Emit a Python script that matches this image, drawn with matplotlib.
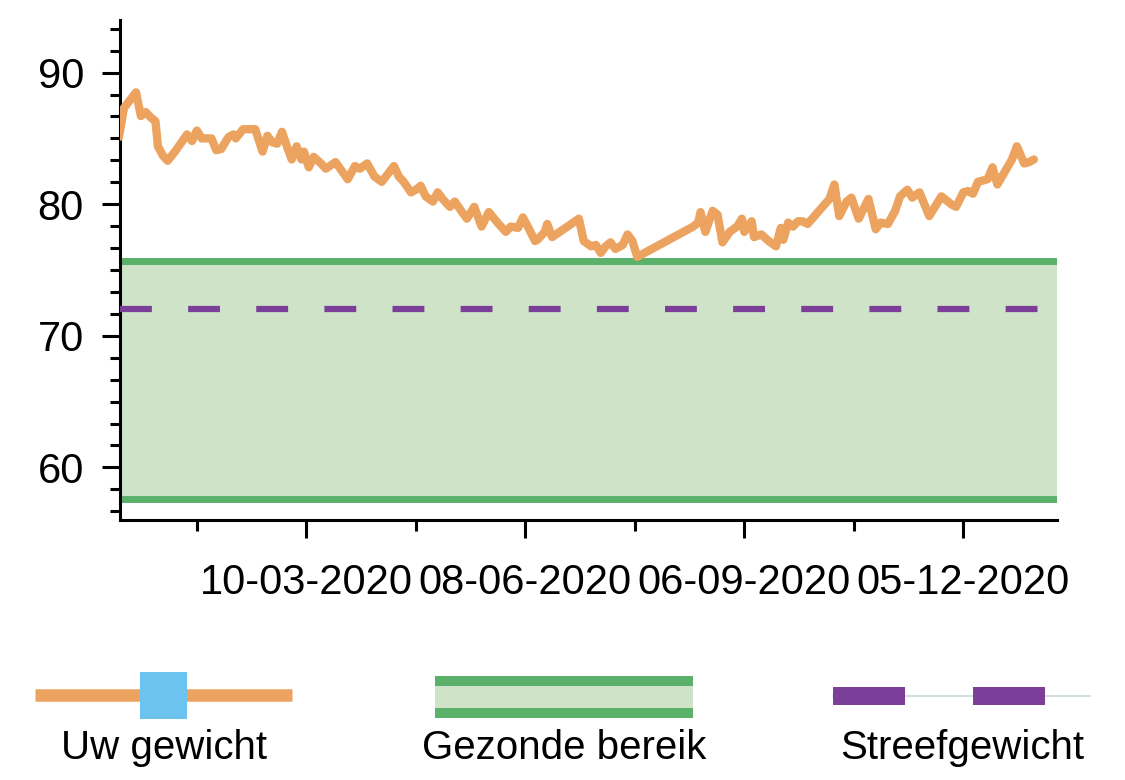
# Gewichtsverloop met gezond bereik en streefgewicht
import matplotlib
matplotlib.use("Agg")
import matplotlib.pyplot as plt
import matplotlib.dates as mdates
from matplotlib.patches import Rectangle
from matplotlib.ticker import MultipleLocator, FixedLocator
import pandas as pd

plt.rcParams['font.family'] = ['Liberation Sans', 'DejaVu Sans']

datums = [
    "2019-12-24", "2019-12-26", "2019-12-31", "2020-01-02", "2020-01-04", "2020-01-06",
    "2020-01-08", "2020-01-09", "2020-01-11", "2020-01-13", "2020-01-16", "2020-01-21",
    "2020-01-23", "2020-01-25", "2020-01-27", "2020-01-31", "2020-02-02", "2020-02-04",
    "2020-02-07", "2020-02-09", "2020-02-10", "2020-02-13", "2020-02-18", "2020-02-21",
    "2020-02-23", "2020-02-25", "2020-02-27", "2020-02-29", "2020-03-02", "2020-03-04",
    "2020-03-06", "2020-03-08", "2020-03-09", "2020-03-11", "2020-03-13", "2020-03-16",
    "2020-03-18", "2020-03-22", "2020-03-27", "2020-03-30", "2020-04-01", "2020-04-04",
    "2020-04-07", "2020-04-10", "2020-04-15", "2020-04-17", "2020-04-19", "2020-04-22",
    "2020-04-24", "2020-04-26", "2020-04-28", "2020-05-01", "2020-05-03", "2020-05-05",
    "2020-05-08", "2020-05-10", "2020-05-13", "2020-05-15", "2020-05-18", "2020-05-21",
    "2020-05-24", "2020-05-28", "2020-05-31", "2020-06-02", "2020-06-05", "2020-06-07",
    "2020-06-09", "2020-06-12", "2020-06-13", "2020-06-16", "2020-06-17", "2020-06-19",
    "2020-06-30", "2020-07-02", "2020-07-05", "2020-07-07", "2020-07-09", "2020-07-11",
    "2020-07-13", "2020-07-15", "2020-07-18", "2020-07-20", "2020-07-22", "2020-07-24",
    "2020-08-16", "2020-08-18", "2020-08-19", "2020-08-21", "2020-08-24", "2020-08-26",
    "2020-08-28", "2020-08-31", "2020-09-03", "2020-09-05", "2020-09-06", "2020-09-09",
    "2020-09-10", "2020-09-13", "2020-09-16", "2020-09-19", "2020-09-21", "2020-09-22",
    "2020-09-24", "2020-09-26", "2020-09-28", "2020-09-30", "2020-10-02", "2020-10-11",
    "2020-10-13", "2020-10-15", "2020-10-18", "2020-10-20", "2020-10-23", "2020-10-27",
    "2020-10-30", "2020-11-01", "2020-11-04", "2020-11-07", "2020-11-09", "2020-11-12",
    "2020-11-14", "2020-11-17", "2020-11-21", "2020-11-26", "2020-11-30", "2020-12-02",
    "2020-12-05", "2020-12-07", "2020-12-09", "2020-12-11", "2020-12-15", "2020-12-17",
    "2020-12-19", "2020-12-25", "2020-12-27", "2020-12-30", "2021-01-01", "2021-01-03",
]
gewicht = [
    85.1, 87.3, 88.5, 86.7, 87.0, 86.6,
    86.3, 84.4, 83.7, 83.3, 84.0, 85.3,
    84.8, 85.6, 85.0, 85.0, 84.1, 84.2,
    85.1, 85.3, 85.0, 85.7, 85.7, 84.0,
    85.2, 84.7, 84.6, 85.5, 84.4, 83.4,
    84.4, 83.4, 84.0, 82.8, 83.6, 83.1,
    82.7, 83.2, 81.9, 82.9, 82.7, 83.1,
    82.1, 81.7, 82.9, 82.1, 81.7, 80.9,
    81.1, 81.4, 80.6, 80.2, 80.9, 80.4,
    79.8, 80.2, 79.4, 78.9, 79.8, 78.3,
    79.4, 78.5, 77.9, 78.3, 78.2, 79.0,
    78.3, 77.2, 77.3, 77.9, 78.5, 77.5,
    78.9, 77.2, 76.8, 76.9, 76.3, 76.8,
    77.1, 76.6, 76.9, 77.7, 77.2, 76.0,
    78.3, 78.6, 79.4, 77.9, 79.5, 79.2,
    77.1, 77.9, 78.3, 78.9, 77.9, 78.7,
    77.5, 77.7, 77.2, 76.8, 78.2, 77.3,
    78.6, 78.3, 78.7, 78.7, 78.5, 80.4,
    81.5, 79.1, 80.2, 80.5, 78.9, 80.4,
    78.1, 78.6, 78.5, 79.5, 80.6, 81.1,
    80.5, 80.9, 79.1, 80.6, 80.0, 79.8,
    80.9, 81.0, 80.8, 81.7, 81.9, 82.8,
    81.5, 83.4, 84.4, 83.1, 83.2, 83.4,
]

gezond_min = 57.6
gezond_max = 75.7
streefgewicht = 72

tick_datums = ["2020-03-10", "2020-06-08", "2020-09-06", "2020-12-05"]
minor_datums = ["2020-01-25", "2020-04-24", "2020-07-23", "2020-10-21"]
x_bereik = ["2019-12-24 10:00", "2021-01-12 12:00"]
y_bereik = [56, 94]

legenda_labels = ["Uw gewicht", "Gezonde bereik", "Streefgewicht"]

# Kleuren
oranje = "#eca35f"
blauw = "#6cc3ee"
groen = "#5bb06a"
lichtgroen = "#cfe3c9"
paars = "#7b3f99"
grijs = "#c8dad8"

x = pd.to_datetime(datums)

fig = plt.figure(figsize=(11.25, 7.8), dpi=100)

# legenda onderaan (eigen assen in pixels)
lax = fig.add_axes([0, 0, 1, 1], zorder=-1)
lax.set_xlim(0, 1125)
lax.set_ylim(780, 0)
lax.axis("off")
lax.plot([35, 292], [695, 695], color=oranje, lw=9, solid_capstyle="butt", zorder=1)
lax.add_patch(Rectangle((140, 672), 47, 47, color=blauw, lw=0, zorder=2))
lax.add_patch(Rectangle((435, 676), 258, 42, color=lichtgroen, lw=0))
lax.add_patch(Rectangle((435, 676), 258, 10, color=groen, lw=0))
lax.add_patch(Rectangle((435, 708), 258, 10, color=groen, lw=0))
lax.plot([833, 1090], [696, 696], color=grijs, lw=1.2, zorder=1)
lax.add_patch(Rectangle((833, 687), 72, 18, color=paars, lw=0, zorder=2))
lax.add_patch(Rectangle((973, 687), 72, 18, color=paars, lw=0, zorder=2))
for lbl, xc in zip(legenda_labels, [164, 564, 962]):
    lax.text(xc, 748, lbl, ha="center", va="center", fontsize=29)

# hoofdgrafiek
ax = fig.add_axes([120 / 1125, 1 - 520 / 780, 937 / 1125, 500 / 780])
ax.axhspan(gezond_min, gezond_max, color=lichtgroen, lw=0, zorder=1)
ax.axhline(gezond_min, color=groen, lw=5, zorder=2)
ax.axhline(gezond_max, color=groen, lw=5, zorder=2)
ax.axhline(streefgewicht, color=paars, lw=4.5, dashes=(5.1, 5.8), zorder=3)
ax.plot(x, gewicht, color=oranje, lw=6, solid_joinstyle="round",
        solid_capstyle="round", zorder=4)

ax.set_xlim(pd.to_datetime(x_bereik))
ax.set_ylim(y_bereik)

ax.yaxis.set_major_locator(MultipleLocator(10))
ax.yaxis.set_minor_locator(MultipleLocator(10 / 6))
ax.xaxis.set_major_locator(FixedLocator(mdates.date2num(pd.to_datetime(tick_datums))))
ax.xaxis.set_minor_locator(FixedLocator(mdates.date2num(pd.to_datetime(minor_datums))))
ax.xaxis.set_major_formatter(mdates.DateFormatter("%d-%m-%Y"))

for s in ["top", "right"]:
    ax.spines[s].set_visible(False)
for s in ["left", "bottom"]:
    ax.spines[s].set_linewidth(2.2)

ax.tick_params(which="major", length=13, width=2.2, labelsize=30)
ax.tick_params(which="minor", length=7, width=2.2)
ax.tick_params(axis="y", which="major", pad=13)
ax.tick_params(axis="x", which="major", pad=18)
ax.tick_params(axis="x", which="minor", length=8)

fig.savefig("out.png", dpi=100)
